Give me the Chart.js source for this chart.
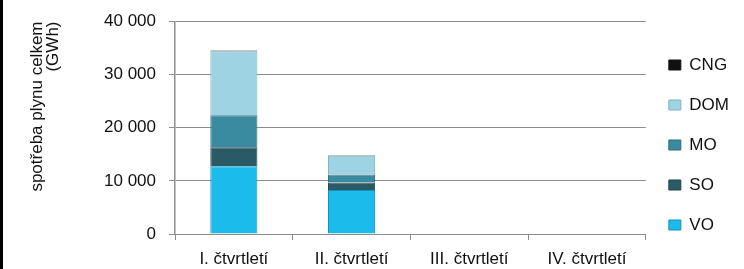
<!DOCTYPE html>
<html>
<head>
<meta charset="utf-8">
<script src="https://cdn.jsdelivr.net/npm/chart.js@4/dist/chart.umd.min.js"></script>
<style>
  body { margin: 0; background: #fff; }
  #wrap { position: relative; width: 744px; height: 269px; }
  #strip { position: absolute; left: 0; top: 0; width: 3px; height: 269px; background: #000; }
</style>
</head>
<body>
<div id="wrap">
  <canvas id="chart" width="744" height="269"></canvas>
  <div id="strip"></div>
</div>
<script>
// data (GWh)
const quarters = ['I. čtvrtletí', 'II. čtvrtletí', 'III. čtvrtletí', 'IV. čtvrtletí'];
const vo = [12770, 8260, null, null];
const so = [3570, 1450, null, null];
const mo = [6010, 1500, null, null];
const dom = [12020, 3530, null, null];
const cng = [150, 90, null, null];
const yTicks = [0, 10000, 20000, 30000, 40000];

const axisGray = '#8c8c8c';
const family = "'Liberation Sans', Arial, sans-serif";
const font = { family: family, size: 17, lineHeight: 1 };

function spaced(v) {
    return String(v).replace(/\B(?=(\d{3})+(?!\d))/g, ' ');
}

function ds(label, data, color, edge) {
    return {
        label: label,
        data: data,
        backgroundColor: color,
        borderColor: edge,
        borderWidth: 1,
        barPercentage: 0.4,
        categoryPercentage: 1
    };
}

new Chart(document.getElementById('chart'), {
    type: 'bar',
    data: {
        labels: quarters,
        datasets: [
            ds('VO', vo, '#1bbcec', '#1590b6'),
            ds('SO', so, '#2b5a67', '#1f434d'),
            ds('MO', mo, '#3a8ba0', '#2c6b7b'),
            ds('DOM', dom, '#9dd3e3', '#7fb3c3'),
            ds('CNG', cng, '#111111', '#111111')
        ]
    },
    options: {
        responsive: false,
        animation: false,
        layout: { padding: { top: 21, left: 29, right: 5, bottom: 0 } },
        plugins: {
            tooltip: { enabled: false },
            legend: {
                position: 'right',
                reverse: true,
                labels: {
                    font: { family: family, size: 17 },
                    color: '#111',
                    boxWidth: 12,
                    boxHeight: 10,
                    padding: 23
                }
            }
        },
        scales: {
            x: {
                stacked: true,
                afterFit: function (axis) { axis.height = 35; },
                grid: { drawOnChartArea: false, color: axisGray, tickLength: 6 },
                border: { color: axisGray, width: 1 },
                ticks: { font: font, color: '#111', padding: 11, maxRotation: 0 }
            },
            y: {
                stacked: true,
                min: 0,
                max: 40000,
                afterBuildTicks: function (axis) {
                    axis.ticks = yTicks.map(function (v) { return { value: v }; });
                },
                afterFit: function (axis) { axis.width = 146; },
                grid: { color: axisGray, tickLength: 6 },
                border: { color: axisGray, width: 1.5 },
                ticks: {
                    font: font,
                    color: '#111',
                    padding: 13,
                    callback: function (v) { return spaced(v); }
                },
                title: {
                    display: true,
                    text: ['spotřeba plynu celkem', '(GWh)'],
                    font: { family: family, size: 17, lineHeight: '16px' },
                    color: '#111',
                    align: 'end',
                    padding: 0
                }
            }
        }
    }
});
</script>
</body>
</html>
